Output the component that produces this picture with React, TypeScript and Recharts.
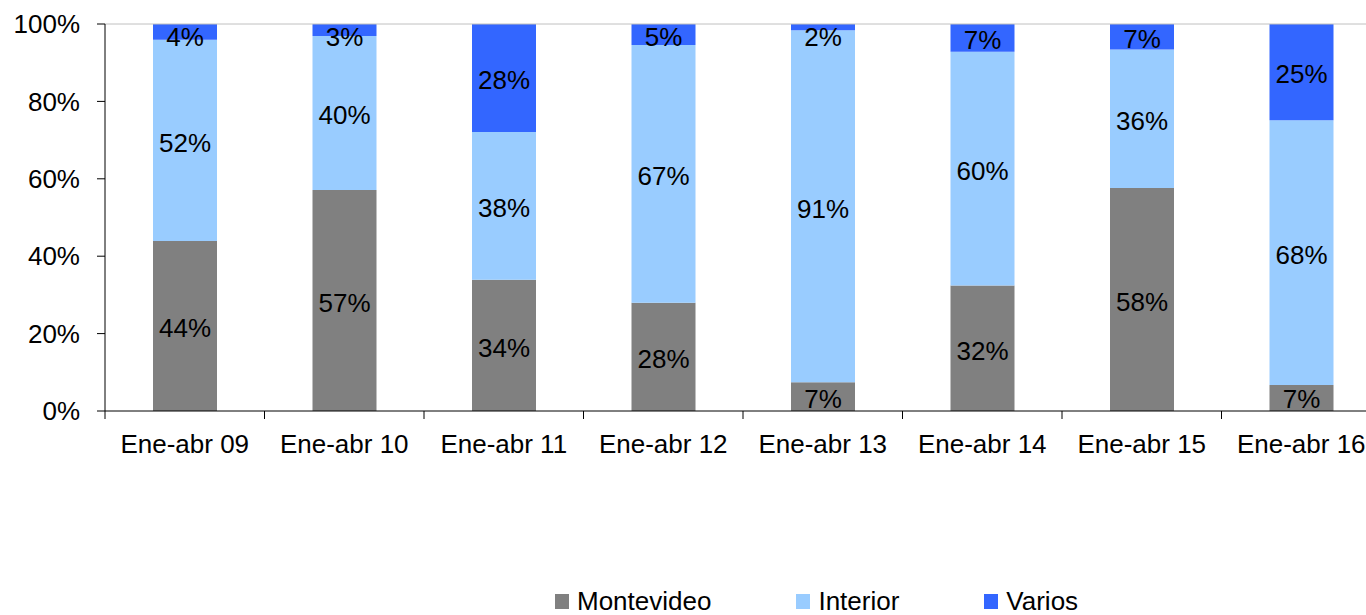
import { BarChart, Bar, XAxis, YAxis, Legend, LabelList, ReferenceLine } from 'recharts';

const periods = ['Ene-abr 09', 'Ene-abr 10', 'Ene-abr 11', 'Ene-abr 12', 'Ene-abr 13', 'Ene-abr 14', 'Ene-abr 15', 'Ene-abr 16'];
const seriesNames = ['Montevideo', 'Interior', 'Varios'];
const montevideo = [43.9, 57.1, 33.9, 28.0, 7.4, 32.4, 57.6, 6.7];
const interior = [52.0, 39.8, 38.2, 66.6, 91.0, 60.4, 35.8, 68.4];
const varios = [4.1, 3.1, 27.9, 5.4, 1.6, 7.2, 6.6, 24.9];
const yTicks = [0, 0.2, 0.4, 0.6, 0.8, 1];

const data = periods.map((p, i) => ({
  periodo: p,
  Montevideo: montevideo[i],
  Interior: interior[i],
  Varios: varios[i],
}));

const FONT = '"Liberation Sans", Arial, sans-serif';
const FS = 26;
const PLOT_TOP = 24;
const PLOT_BOTTOM = 411;
const BAND = (1381 - 105) / periods.length;

const XTick = ({ x, y, payload }: any) => (
  <g>
    <line x1={x - BAND / 2} x2={x - BAND / 2} y1={y - 24} y2={y - 16} stroke="#000" />
    <text x={x} y={y} dy="0.71em" textAnchor="middle" fontSize={FS} fontFamily={FONT} fill="#000">
      {payload.value}
    </text>
  </g>
);

const SegLabel = ({ x, y, width, height, value }: any) => {
  let cy = y + height / 2 + 2;
  cy = Math.max(PLOT_TOP + 13, Math.min(PLOT_BOTTOM - 12, cy));
  return (
    <text x={x + width / 2} y={cy} dy="0.355em" textAnchor="middle" fontSize={FS} fontFamily={FONT} fill="#000">
      {`${Math.round(value)}%`}
    </text>
  );
};

const renderLegend = ({ payload }: any) => {
  const items = [...(payload || [])].sort(
    (a: any, b: any) => seriesNames.indexOf(a.value) - seriesNames.indexOf(b.value),
  );
  return (
    <div style={{ display: 'flex', alignItems: 'center', height: 26, lineHeight: '26px', fontSize: FS, fontFamily: FONT, color: '#000' }}>
      {items.map((entry: any, i: number) => (
        <div key={entry.value} style={{ display: 'flex', alignItems: 'center', marginRight: i < 2 ? 85 : 0 }}>
          <span style={{ display: 'inline-block', width: 14, height: 15, background: entry.color, marginRight: 8 }} />
          <span>{entry.value}</span>
        </div>
      ))}
    </div>
  );
};

export default function App() {
  return (
    <div style={{ position: 'fixed', left: 0, top: 0, width: 1366, height: 615, overflow: 'hidden', background: '#fff', fontFamily: FONT }}>
      <BarChart
        width={1400}
        height={615}
        data={data}
        stackOffset="expand"
        margin={{ top: PLOT_TOP, right: 19, left: 0, bottom: 0 }}
        barSize={64}
      >
        <ReferenceLine y={1} stroke="#c0c0c0" />
        <XAxis
          dataKey="periodo"
          axisLine={{ stroke: '#000' }}
          tickLine={false}
          tickSize={8}
          tickMargin={16}
          height={178}
          interval={0}
          tick={<XTick />}
        />
        <YAxis
          width={105}
          domain={[0, 1]}
          ticks={yTicks}
          tickFormatter={(v: number) => `${Math.round(v * 100)}%`}
          axisLine={{ stroke: '#000' }}
          tickLine={{ stroke: '#000' }}
          tickSize={8}
          tickMargin={17}
          tick={{ fill: '#000', fontSize: FS, fontFamily: FONT }}
        />
        <Legend content={renderLegend} wrapperStyle={{ left: 555, top: 588, width: 'auto' }} />
        <Bar dataKey="Montevideo" stackId="a" fill="#808080" isAnimationActive={false}>
          <LabelList dataKey="Montevideo" content={<SegLabel />} />
        </Bar>
        <Bar dataKey="Interior" stackId="a" fill="#99ccff" isAnimationActive={false}>
          <LabelList dataKey="Interior" content={<SegLabel />} />
        </Bar>
        <Bar dataKey="Varios" stackId="a" fill="#3366ff" isAnimationActive={false}>
          <LabelList dataKey="Varios" content={<SegLabel />} />
        </Bar>
      </BarChart>
    </div>
  );
}
